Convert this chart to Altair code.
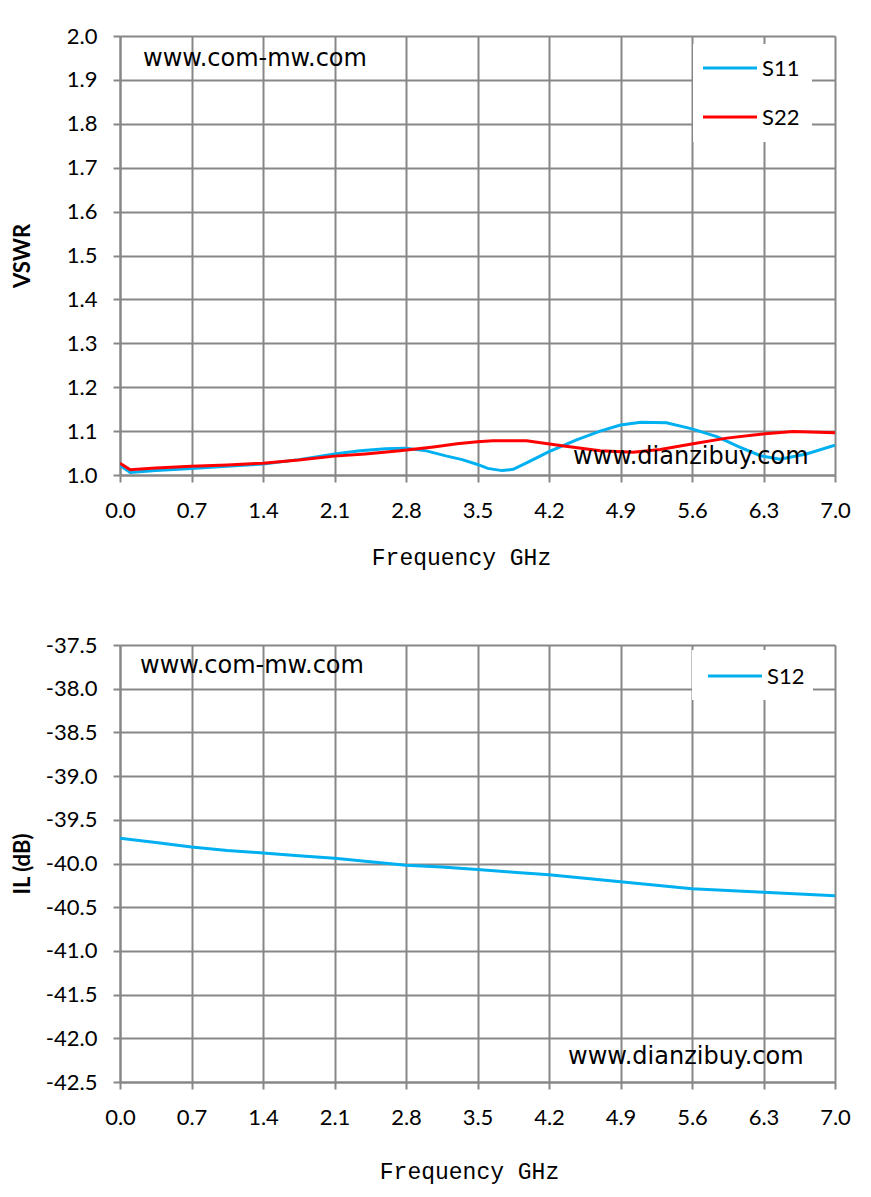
import altair as alt
import pandas as pd

# ---------------- data ----------------
freq_s11 = [0.0, 0.1, 0.35, 0.7, 1.05, 1.4, 1.75, 2.1, 2.35, 2.6,
            2.8, 3.0, 3.2, 3.35, 3.5, 3.6, 3.74, 3.85, 4.0, 4.2,
            4.47, 4.7, 4.9, 5.1, 5.35, 5.6, 5.85, 6.05, 6.27, 6.46,
            6.72, 7.0]
vswr_s11 = [1.022, 1.006, 1.010, 1.015, 1.020, 1.025, 1.035, 1.048, 1.055, 1.060,
            1.061, 1.055, 1.043, 1.035, 1.024, 1.015, 1.010, 1.013, 1.030, 1.053,
            1.080, 1.100, 1.114, 1.120, 1.119, 1.105, 1.087, 1.065, 1.044, 1.036,
            1.048, 1.068]

freq_s22 = [0.0, 0.1, 0.35, 0.7, 1.05, 1.4, 1.75, 2.1, 2.4, 2.74,
            3.07, 3.3, 3.5, 3.65, 3.98, 4.31, 4.7, 5.02, 5.29, 5.61,
            5.94, 6.27, 6.59, 7.0]
vswr_s22 = [1.027, 1.012, 1.016, 1.020, 1.023, 1.027, 1.034, 1.043, 1.048, 1.055,
            1.064, 1.071, 1.076, 1.078, 1.078, 1.067, 1.055, 1.052, 1.058, 1.071,
            1.084, 1.093, 1.099, 1.096]

freq_s12 = [0.0, 0.35, 0.7, 1.05, 1.4, 1.75, 2.1, 2.45, 2.8, 3.15,
            3.5, 3.85, 4.2, 4.55, 4.9, 5.25, 5.6, 5.95, 6.3, 6.65, 7.0]
il_s12 = [-39.71, -39.76, -39.81, -39.85, -39.88, -39.91, -39.94, -39.98, -40.02, -40.04,
          -40.07, -40.10, -40.13, -40.17, -40.21, -40.25, -40.29, -40.31, -40.33, -40.35,
          -40.37]

x_ticks = [0.0, 0.7, 1.4, 2.1, 2.8, 3.5, 4.2, 4.9, 5.6, 6.3, 7.0]
vswr_ticks = [1.0, 1.1, 1.2, 1.3, 1.4, 1.5, 1.6, 1.7, 1.8, 1.9, 2.0]
il_ticks = [-42.5, -42.0, -41.5, -41.0, -40.5, -40.0, -39.5, -39.0, -38.5, -38.0, -37.5]

series_names = ["S11", "S22", "S12"]
series_colors = ["#00B0F0", "#FF0000", "#00B0F0"]

# ---------------- styling ----------------
GRID = "#878787"
LABEL_FONT = "Lato"
MARK_FONT = "DejaVu Sans"
W = 715
H1 = 439
H2 = 437
HYPHEN_LABEL = "(datum.value < 0 ? '-' : '') + format(abs(datum.value), '.1f')"

df_top = pd.concat([
    pd.DataFrame({"freq": freq_s11, "value": vswr_s11, "series": "S11"}),
    pd.DataFrame({"freq": freq_s22, "value": vswr_s22, "series": "S22"}),
], ignore_index=True)
df_bot = pd.DataFrame({"freq": freq_s12, "value": il_s12, "series": "S12"})

color_scale = alt.Scale(domain=series_names, range=series_colors)


def x_enc(title_x, title_y):
    return alt.X(
        "freq:Q",
        scale=alt.Scale(domain=[0, 7], nice=False, zero=False),
        axis=alt.Axis(
            values=x_ticks, format=".1f", title="Frequency GHz",
            titleX=title_x, titleY=title_y, titleBaseline="alphabetic", titleAlign="center",
            titleFont="Liberation Mono", titleFontSize=23, titleFontWeight="normal",
            titleColor="black",
            labelFont=LABEL_FONT, labelFontSize=22, labelColor="black",
            labelPadding=18, labelFlush=False, labelOverlap=False,
            tickSize=7, tickWidth=2, tickColor=GRID,
            domainColor=GRID, domainWidth=2,
            grid=True, gridColor=GRID, gridWidth=2,
        ),
    )


def y_enc(domain, ticks, title, title_x):
    return alt.Y(
        "value:Q",
        scale=alt.Scale(domain=domain, nice=False, zero=False),
        axis=alt.Axis(
            values=ticks, labelExpr=HYPHEN_LABEL, title=title,
            titleX=title_x, titleFont=LABEL_FONT, titleFontSize=22,
            titleFontWeight="bold", titleColor="black",
            labelFont=LABEL_FONT, labelFontSize=22, labelColor="black",
            labelPadding=16, labelOverlap=False, labelFlush=False,
            tickSize=7, tickWidth=2, tickColor=GRID,
            domainColor=GRID, domainWidth=2,
            grid=True, gridColor=GRID, gridWidth=2,
        ),
    )


def text_mark(txt, x, y, font=MARK_FONT, size=24, baseline="alphabetic"):
    return alt.Chart(pd.DataFrame({"t": [txt]})).mark_text(
        font=font, fontSize=size, color="black", align="left", baseline=baseline
    ).encode(x=alt.value(x), y=alt.value(y), text="t:N")


def legend_box(x, x2, y, y2):
    return alt.Chart(pd.DataFrame({"b": [1]})).mark_rect(color="white").encode(
        x=alt.value(x), x2=alt.value(x2), y=alt.value(y), y2=alt.value(y2)
    )


def legend_entry(name, color, x, y):
    rule = alt.Chart(pd.DataFrame({"s": [name]})).mark_rule(
        color=color, strokeWidth=3
    ).encode(x=alt.value(x), x2=alt.value(x + 54), y=alt.value(y))
    lab = alt.Chart(pd.DataFrame({"s": [name]})).mark_text(
        font=LABEL_FONT, fontSize=22, color="black", align="left", baseline="middle"
    ).encode(x=alt.value(x + 59), y=alt.value(y + 1), text="s:N")
    return rule + lab


# ---------------- top chart: VSWR ----------------
top_lines = alt.Chart(df_top).mark_line(strokeWidth=3, clip=True).encode(
    x=x_enc(341, 89),
    y=y_enc([1.0, 2.0], vswr_ticks, "VSWR", -86),
    color=alt.Color("series:N", scale=color_scale, legend=None),
    detail="series:N",
)

top = alt.layer(
    top_lines,
    legend_box(573, 692, 8, 106),
    legend_entry("S11", series_colors[0], 583, 32),
    legend_entry("S22", series_colors[1], 583, 81),
    text_mark("www.com-mw.com", 23, 30),
    text_mark("www.dianzibuy.com", 453, 428),
).properties(width=W, height=H1)

# ---------------- bottom chart: IL ----------------
bot_lines = alt.Chart(df_bot).mark_line(strokeWidth=3, clip=True).encode(
    x=x_enc(349, 96),
    y=y_enc([-42.5, -37.5], il_ticks, "IL (dB)", -86),
    color=alt.Color("series:N", scale=color_scale, legend=None),
)

bottom = alt.layer(
    bot_lines,
    legend_box(572, 693, 5, 55),
    legend_entry("S12", series_colors[2], 588, 31),
    text_mark("www.com-mw.com", 20, 28),
    text_mark("www.dianzibuy.com", 448, 419),
).properties(width=W, height=H2)

chart = alt.vconcat(top, bottom, spacing=63).properties(
    padding={"left": 2, "top": 16, "right": 5, "bottom": 2},
    background="white",
).configure_view(stroke="transparent")

chart.save("out.html", embed_options={"renderer": "svg", "actions": False})
